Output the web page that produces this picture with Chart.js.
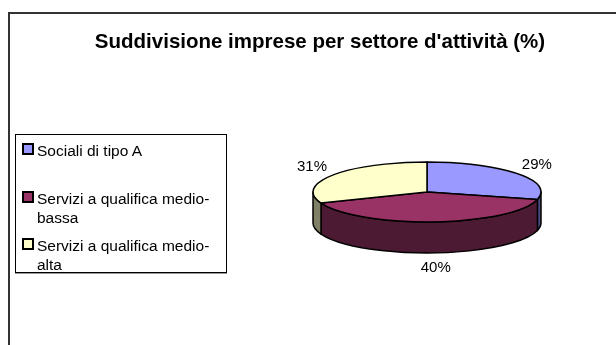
<!DOCTYPE html>
<html>
<head>
<meta charset="utf-8">
<script src="https://cdn.jsdelivr.net/npm/chart.js@4.4.0/dist/chart.umd.min.js"></script>
<style>
    html, body { margin: 0; padding: 0; background: #fff; }
    body { width: 616px; height: 345px; position: relative; overflow: hidden; font-family: "Liberation Sans", Arial, sans-serif; }
    #frame { position: absolute; left: 8px; top: 12px; width: 700px; height: 400px; border-left: 2px solid #333; border-top: 2px solid #333; }
    #chart { position: absolute; left: 0; top: 0; }
    #title { position: absolute; left: 0; width: 640px; top: 29px; text-align: center; font-weight: bold; font-size: 20.5px; line-height: 24px; color: #000; }
    #legend { position: absolute; left: 15px; top: 134px; width: 210px; height: 137px; border: 1px solid #000; box-shadow: 0 1px 0 #999; background: #fff; }
    .item { position: absolute; left: 0; width: 210px; }
    .swatch { position: absolute; left: 6px; top: 2px; width: 8px; height: 8px; border: 2px solid #000; }
    .label { position: absolute; left: 21px; width: 188px; font-size: 15.5px; line-height: 19px; color: #000; }
</style>
</head>
<body>
<div id="frame"></div>
<canvas id="chart" width="616" height="345"></canvas>
<div id="title">Suddivisione imprese per settore d'attività (%)</div>
<div id="legend"></div>
<script>
// ------------------ DATA ------------------
const categories = ['Sociali di tipo A', 'Servizi a qualifica medio-bassa', 'Servizi a qualifica medio-alta'];
const shares = [29, 40, 31];
const topColors = ['#9999FF', '#993366', '#FFFFCC'];
const sideColors = ['#4C4C80', '#4C1A33', '#808066'];

// ------------------ LEGEND ------------------
const legendTops = [6, 54, 101];
const legend = document.getElementById('legend');
categories.forEach((name, i) => {
    const item = document.createElement('div');
    item.className = 'item';
    item.style.top = legendTops[i] + 'px';
    item.innerHTML = `<div class="swatch" style="background:${topColors[i]}"></div><div class="label">${name}</div>`;
    legend.appendChild(item);
});

// ------------------ 3D PIE PLUGIN ------------------
// flattens the pie into an ellipse and adds the side wall, using the arc angles chart.js computed
const pie3d = {
    id: 'pie3d',
    beforeDatasetsDraw(chart, args, opts) {
        const ctx = chart.ctx;
        const arcs = chart.getDatasetMeta(0).data;
        const first = arcs[0].getProps(['x', 'y', 'outerRadius'], true);
        const cx = first.x, cy = first.y;
        const rx = first.outerRadius, ry = rx * opts.tilt;
        const depth = opts.depth;

        ctx.save();
        ctx.lineWidth = 1.5;
        ctx.strokeStyle = '#000';
        ctx.lineJoin = 'round';

        // side walls (only the front half is visible)
        arcs.forEach((arc, i) => {
            const p = arc.getProps(['startAngle', 'endAngle'], true);
            const s = Math.max(p.startAngle, 0);
            const e = Math.min(p.endAngle, Math.PI);
            if (e <= s) return;
            ctx.beginPath();
            ctx.ellipse(cx, cy, rx, ry, 0, s, e, false);
            ctx.ellipse(cx, cy + depth, rx, ry, 0, e, s, true);
            ctx.closePath();
            ctx.fillStyle = sideColors[i];
            ctx.fill();
            ctx.stroke();
        });

        // top faces
        arcs.forEach((arc, i) => {
            const p = arc.getProps(['startAngle', 'endAngle'], true);
            ctx.beginPath();
            ctx.moveTo(cx, cy);
            ctx.ellipse(cx, cy, rx, ry, 0, p.startAngle, p.endAngle, false);
            ctx.closePath();
            ctx.fillStyle = topColors[i];
            ctx.fill();
            ctx.stroke();
        });

        // percentage labels
        const total = shares.reduce((a, b) => a + b, 0);
        ctx.fillStyle = '#000';
        ctx.font = '15px "Liberation Sans", Arial, sans-serif';
        ctx.textAlign = 'center';
        ctx.textBaseline = 'middle';
        arcs.forEach((arc, i) => {
            const p = arc.getProps(['startAngle', 'endAngle'], true);
            const m = (p.startAngle + p.endAngle) / 2;
            const x = cx + (rx + opts.labelDx) * Math.cos(m);
            let y = cy + (ry + opts.labelDy) * Math.sin(m);
            if (Math.sin(m) > 0.3) y += depth;
            ctx.fillText(Math.round(shares[i] / total * 100) + '%', x, y);
        });

        ctx.restore();
        return false;
    }
};

// ------------------ CHART ------------------
const chart = new Chart(document.getElementById('chart'), {
    type: 'pie',
    data: {
        labels: categories,
        datasets: [{ data: shares, backgroundColor: topColors, borderWidth: 0 }]
    },
    options: {
        responsive: false,
        animation: false,
        events: [],
        layout: { padding: { left: 313, right: 75, top: 78, bottom: 39 } },
        plugins: {
            legend: { display: false },
            tooltip: { enabled: false },
            pie3d: { tilt: 0.263, depth: 31, labelDx: 25, labelDy: 15 }
        }
    },
    plugins: [pie3d]
});
</script>
</body>
</html>
